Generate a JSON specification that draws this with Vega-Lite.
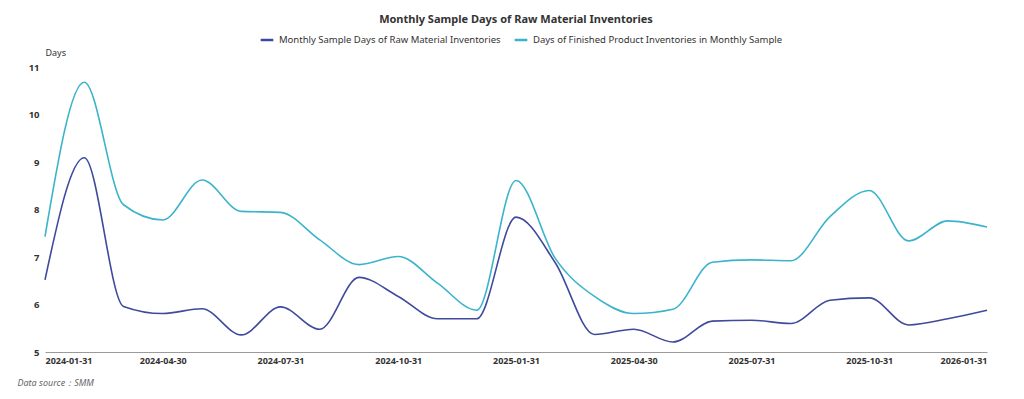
{
  "$schema": "https://vega.github.io/schema/vega-lite/v6.json",
  "autosize": "none",
  "width": 942,
  "height": 285,
  "padding": {"left": 45, "top": 67, "right": 37, "bottom": 47},
  "background": "white",
  "title": {
    "text": "Monthly Sample Days of Raw Material Inventories",
    "anchor": "middle",
    "font": "Noto Sans",
    "fontSize": 11,
    "fontWeight": "bold",
    "color": "#333333",
    "offset": 7
  },
  "config": {
    "view": {"stroke": null},
    "font": "Noto Sans"
  },
  "data": {
    "values": [
      {"date": "2024-01-31", "series": "Monthly Sample Days of Raw Material Inventories", "value": 6.52},
      {"date": "2024-02-29", "series": "Monthly Sample Days of Raw Material Inventories", "value": 9.09},
      {"date": "2024-03-31", "series": "Monthly Sample Days of Raw Material Inventories", "value": 5.96},
      {"date": "2024-04-30", "series": "Monthly Sample Days of Raw Material Inventories", "value": 5.81},
      {"date": "2024-05-31", "series": "Monthly Sample Days of Raw Material Inventories", "value": 5.91},
      {"date": "2024-06-30", "series": "Monthly Sample Days of Raw Material Inventories", "value": 5.36},
      {"date": "2024-07-31", "series": "Monthly Sample Days of Raw Material Inventories", "value": 5.95},
      {"date": "2024-08-31", "series": "Monthly Sample Days of Raw Material Inventories", "value": 5.48},
      {"date": "2024-09-30", "series": "Monthly Sample Days of Raw Material Inventories", "value": 6.57},
      {"date": "2024-10-31", "series": "Monthly Sample Days of Raw Material Inventories", "value": 6.17},
      {"date": "2024-11-30", "series": "Monthly Sample Days of Raw Material Inventories", "value": 5.70},
      {"date": "2024-12-31", "series": "Monthly Sample Days of Raw Material Inventories", "value": 5.70},
      {"date": "2025-01-31", "series": "Monthly Sample Days of Raw Material Inventories", "value": 7.84},
      {"date": "2025-02-28", "series": "Monthly Sample Days of Raw Material Inventories", "value": 6.88},
      {"date": "2025-03-31", "series": "Monthly Sample Days of Raw Material Inventories", "value": 5.37},
      {"date": "2025-04-30", "series": "Monthly Sample Days of Raw Material Inventories", "value": 5.48},
      {"date": "2025-05-31", "series": "Monthly Sample Days of Raw Material Inventories", "value": 5.21},
      {"date": "2025-06-30", "series": "Monthly Sample Days of Raw Material Inventories", "value": 5.65},
      {"date": "2025-07-31", "series": "Monthly Sample Days of Raw Material Inventories", "value": 5.67},
      {"date": "2025-08-31", "series": "Monthly Sample Days of Raw Material Inventories", "value": 5.60},
      {"date": "2025-09-30", "series": "Monthly Sample Days of Raw Material Inventories", "value": 6.09},
      {"date": "2025-10-31", "series": "Monthly Sample Days of Raw Material Inventories", "value": 6.14},
      {"date": "2025-11-30", "series": "Monthly Sample Days of Raw Material Inventories", "value": 5.57},
      {"date": "2025-12-31", "series": "Monthly Sample Days of Raw Material Inventories", "value": 5.70},
      {"date": "2026-01-31", "series": "Monthly Sample Days of Raw Material Inventories", "value": 5.88},
      {"date": "2024-01-31", "series": "Days of Finished Product Inventories in Monthly Sample", "value": 7.43},
      {"date": "2024-02-29", "series": "Days of Finished Product Inventories in Monthly Sample", "value": 10.68},
      {"date": "2024-03-31", "series": "Days of Finished Product Inventories in Monthly Sample", "value": 8.10},
      {"date": "2024-04-30", "series": "Days of Finished Product Inventories in Monthly Sample", "value": 7.78},
      {"date": "2024-05-31", "series": "Days of Finished Product Inventories in Monthly Sample", "value": 8.62},
      {"date": "2024-06-30", "series": "Days of Finished Product Inventories in Monthly Sample", "value": 7.96},
      {"date": "2024-07-31", "series": "Days of Finished Product Inventories in Monthly Sample", "value": 7.94},
      {"date": "2024-08-31", "series": "Days of Finished Product Inventories in Monthly Sample", "value": 7.36},
      {"date": "2024-09-30", "series": "Days of Finished Product Inventories in Monthly Sample", "value": 6.84},
      {"date": "2024-10-31", "series": "Days of Finished Product Inventories in Monthly Sample", "value": 7.01},
      {"date": "2024-11-30", "series": "Days of Finished Product Inventories in Monthly Sample", "value": 6.45},
      {"date": "2024-12-31", "series": "Days of Finished Product Inventories in Monthly Sample", "value": 5.88},
      {"date": "2025-01-31", "series": "Days of Finished Product Inventories in Monthly Sample", "value": 8.61},
      {"date": "2025-02-28", "series": "Days of Finished Product Inventories in Monthly Sample", "value": 6.97},
      {"date": "2025-03-31", "series": "Days of Finished Product Inventories in Monthly Sample", "value": 6.17},
      {"date": "2025-04-30", "series": "Days of Finished Product Inventories in Monthly Sample", "value": 5.81},
      {"date": "2025-05-31", "series": "Days of Finished Product Inventories in Monthly Sample", "value": 5.90},
      {"date": "2025-06-30", "series": "Days of Finished Product Inventories in Monthly Sample", "value": 6.89},
      {"date": "2025-07-31", "series": "Days of Finished Product Inventories in Monthly Sample", "value": 6.94},
      {"date": "2025-08-31", "series": "Days of Finished Product Inventories in Monthly Sample", "value": 6.92},
      {"date": "2025-09-30", "series": "Days of Finished Product Inventories in Monthly Sample", "value": 7.85},
      {"date": "2025-10-31", "series": "Days of Finished Product Inventories in Monthly Sample", "value": 8.40},
      {"date": "2025-11-30", "series": "Days of Finished Product Inventories in Monthly Sample", "value": 7.34},
      {"date": "2025-12-31", "series": "Days of Finished Product Inventories in Monthly Sample", "value": 7.76},
      {"date": "2026-01-31", "series": "Days of Finished Product Inventories in Monthly Sample", "value": 7.63}
    ]
  },
  "mark": {"type": "line", "interpolate": "monotone", "strokeWidth": 1.6},
  "encoding": {
    "x": {
      "field": "date",
      "type": "ordinal",
      "sort": null,
      "scale": {"type": "point", "padding": 0},
      "axis": {
        "values": ["2024-01-31", "2024-04-30", "2024-07-31", "2024-10-31", "2025-01-31", "2025-04-30", "2025-07-31", "2025-10-31", "2026-01-31"],
        "labelAngle": 0,
        "labelAlign": {"expr": "datum.value == '2024-01-31' ? 'left' : (datum.value == '2026-01-31' ? 'right' : 'center')"},
        "labelFont": "Noto Sans",
        "labelFontSize": 9,
        "labelFontWeight": "bold",
        "labelColor": "#333333",
        "labelPadding": 4,
        "ticks": false,
        "grid": false,
        "domainColor": "#9a9a9a",
        "domainWidth": 1,
        "title": "Data source：SMM",
        "titleFont": "Noto Sans",
        "titleFontSize": 9,
        "titleFontStyle": "italic",
        "titleFontWeight": "normal",
        "titleColor": "#666666",
        "titleAnchor": "start",
        "titleAlign": "left",
        "titleX": -28,
        "titleY": 33,
        "titleBaseline": "alphabetic"
      }
    },
    "y": {
      "field": "value",
      "type": "quantitative",
      "scale": {"domain": [5, 11], "nice": false, "zero": false},
      "axis": {
        "values": [5, 6, 7, 8, 9, 10, 11],
        "labelFont": "Noto Sans",
        "labelFontSize": 9.5,
        "labelFontWeight": "bold",
        "labelColor": "#333333",
        "labelPadding": 6,
        "ticks": false,
        "domain": false,
        "grid": false,
        "title": "Days",
        "titleFont": "Noto Sans",
        "titleFontSize": 9,
        "titleFontWeight": "normal",
        "titleColor": "#333333",
        "titleAngle": 0,
        "titleAlign": "left",
        "titleBaseline": "alphabetic",
        "titleX": 0,
        "titleY": -12
      }
    },
    "color": {
      "field": "series",
      "type": "nominal",
      "sort": ["Monthly Sample Days of Raw Material Inventories", "Days of Finished Product Inventories in Monthly Sample"],
      "scale": {
        "domain": ["Monthly Sample Days of Raw Material Inventories", "Days of Finished Product Inventories in Monthly Sample"],
        "range": ["#3f4a9c", "#3bb4cb"]
      },
      "legend": {
        "orient": "none",
        "legendX": 214,
        "legendY": -35,
        "direction": "horizontal",
        "title": null,
        "symbolType": "stroke",
        "symbolSize": 160,
        "symbolStrokeWidth": 2.5,
        "labelFont": "Noto Sans",
        "labelFontSize": 9.5,
        "labelColor": "#333333",
        "columnPadding": 8,
        "labelLimit": 400
      }
    }
  }
}
